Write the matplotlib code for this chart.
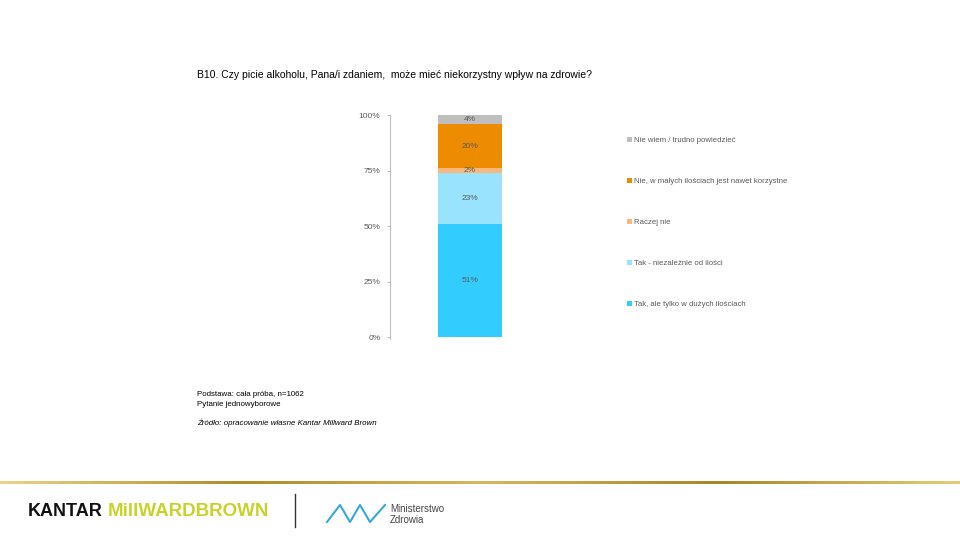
import numpy as np
import matplotlib.pyplot as plt
from matplotlib.colors import LinearSegmentedColormap

categories = ["Tak, ale tylko w dużych ilościach", "Tak - niezależnie od ilości",
              "Raczej nie", "Nie, w małych ilościach jest nawet korzystne",
              "Nie wiem / trudno powiedzieć"]
values = [51, 23, 2, 20, 4]
colors = ["#33CCFF", "#99E3FF", "#F7B97B", "#EE8C00", "#BFBFBF"]
yticks = [0, 25, 50, 75, 100]
ytick_labels = ["0%", "25%", "50%", "75%", "100%"]

title = "B10. Czy picie alkoholu, Pana/i zdaniem,  może mieć niekorzystny wpływ na zdrowie?"
notes = ["Podstawa: cała próba, n=1062", "Pytanie jednowyborowe"]
source = "Źródło: opracowanie własne Kantar Millward Brown"

W, H = 960, 540
fig = plt.figure(figsize=(9.6, 5.4), dpi=100)
plt.rcParams['font.family'] = ['Arial', 'Liberation Sans', 'DejaVu Sans']

# chart axes (pixel box 390..550 x 115..337)
ax = fig.add_axes([390 / W, 1 - 337 / H, 160 / W, 222 / H])
bottom = 0
handles = []
for cat, val, col in zip(categories, values, colors):
    b = ax.bar(0.5, val, width=0.4, bottom=bottom, color=col, label=cat)
    handles.append(b)
    ax.text(0.5, bottom + val / 2, f"{val}%", ha='center', va='center',
            fontsize=6, color='#595959')
    bottom += val

ax.set_xlim(0, 1)
ax.set_ylim(0, 100)
ax.set_yticks(yticks)
ax.set_yticklabels(ytick_labels)
ax.tick_params(axis='y', labelsize=6, labelcolor='#595959', length=2, color='#BFBFBF', pad=5)
ax.set_xticks([])
for s in ['top', 'right', 'bottom']:
    ax.spines[s].set_visible(False)
ax.spines['left'].set_color('#BFBFBF')
ax.spines['left'].set_bounds(-1, 100)

leg = fig.legend(handles[::-1], categories[::-1], loc='upper left',
                 bbox_to_anchor=(627 / W, 1 - 137 / H), frameon=False,
                 fontsize=5.6, labelcolor='#595959', handlelength=0.6,
                 handleheight=0.6, handletextpad=0.3, labelspacing=4.35,
                 borderaxespad=0, borderpad=0)

fig.text(197 / W, 1 - 75 / H, title, fontsize=7.5, color='#000000', va='center')
fig.text(197 / W, 1 - 395 / H, notes[0], fontsize=5.7, color='#000000', va='center')
fig.text(197 / W, 1 - 405 / H, notes[1], fontsize=5.7, color='#000000', va='center')
fig.text(197 / W, 1 - 423 / H, source, fontsize=5.7, color='#000000', va='center', style='italic')

# gold line
gold = LinearSegmentedColormap.from_list('gold', ['#E8D48A', '#B08C28', '#D4B860', '#A8862A', '#E3CC7A'])
lax = fig.add_axes([0, 1 - 484 / H, 1, 3 / H])
lax.imshow(np.linspace(0, 1, 400).reshape(1, -1), aspect='auto', cmap=gold)
lax.axis('off')

# logos
fig.text(28 / W, 1 - 511 / H, "KANTAR", fontsize=13, fontweight='bold', color='#111111', va='center')
fig.text(108 / W, 1 - 511 / H, "MillWARDBROWN", fontsize=13.5, fontweight='bold', color='#C9D22A', va='center')
fig.add_artist(plt.Line2D([295 / W, 295 / W], [1 - 527 / H, 1 - 494 / H], color='#333333', lw=1))
zx = np.array([327, 340, 350, 360, 370, 385]) / W
zy = 1 - np.array([522, 505, 522, 505, 522, 505]) / H
fig.add_artist(plt.Line2D(zx, zy, color='#3AA6DC', lw=1.5))
fig.text(390 / W, 1 - 509 / H, "Ministerstwo", fontsize=7, color='#444444', va='center')
fig.text(390 / W, 1 - 520 / H, "Zdrowia", fontsize=7, color='#444444', va='center')

fig.savefig('out.png', dpi=100)
